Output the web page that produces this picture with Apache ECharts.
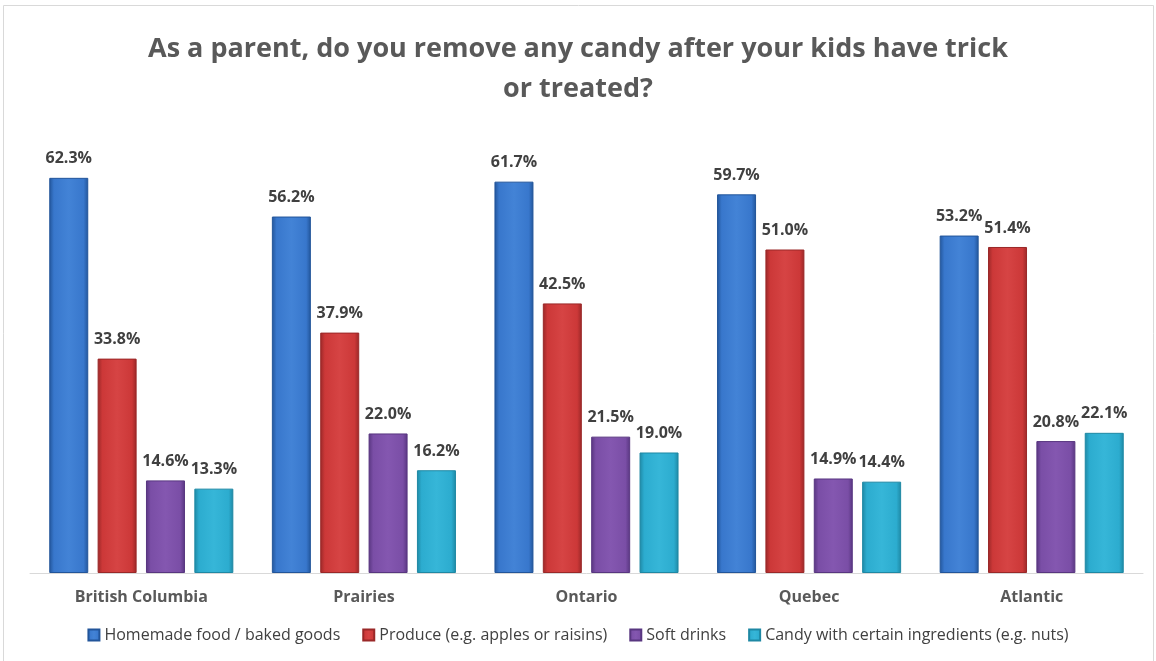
<!DOCTYPE html>
<html>
<head>
<meta charset="utf-8">
<script src="https://cdn.jsdelivr.net/npm/echarts@6/dist/echarts.min.js"></script>
<style>
  html, body { margin: 0; padding: 0; background: #fff; }
  #chart { width: 1156px; height: 661px; }
</style>
</head>
<body>
<div id="chart"></div>
<script>
const regions = ['British Columbia', 'Prairies', 'Ontario', 'Quebec', 'Atlantic']
const homemade = [62.3, 56.2, 61.7, 59.7, 53.2]
const produce = [33.8, 37.9, 42.5, 51.0, 51.4]
const softDrinks = [14.6, 22.0, 21.5, 14.9, 20.8]
const candyIngredients = [13.3, 16.2, 19.0, 14.4, 22.1]
const seriesNames = [
  'Homemade food / baked goods',
  'Produce (e.g. apples or raisins)',
  'Soft drinks',
  'Candy with certain ingredients (e.g. nuts)'
]

// 边缘深、中间亮，模仿 Excel 的斜面柱子
function bevel(dark, mid, light) {
  return new echarts.graphic.LinearGradient(0, 0, 1, 0, [
    { offset: 0, color: dark },
    { offset: 0.12, color: mid },
    { offset: 0.5, color: light },
    { offset: 0.88, color: mid },
    { offset: 1, color: dark }
  ])
}
const colors = [
  ['#22559a', '#3877cc', '#4383d6'],
  ['#9a2828', '#cc3838', '#d64444'],
  ['#583680', '#7a4ea6', '#8457b0'],
  ['#1e88a4', '#2caccf', '#36b6d8']
]
const flat = ['#3877cc', '#cc3838', '#7a4ea6', '#2caccf']

function makeSeries(name, data, i) {
  return {
    name: name,
    type: 'bar',
    data: data,
    barWidth: 39,
    barGap: '24%',
    itemStyle: {
      color: bevel(colors[i][0], colors[i][1], colors[i][2]),
      borderColor: colors[i][0],
      borderWidth: 1
    },
    label: {
      show: true,
      position: 'top',
      distance: 11,
      formatter: p => p.value.toFixed(1) + '%',
      fontFamily: 'Open Sans',
      fontWeight: 'bold',
      fontSize: 16,
      color: '#404040'
    }
  }
}

const chart = echarts.init(document.getElementById('chart'))
chart.setOption({
  animation: false,
  color: flat,
  title: {
    text: 'As a parent, do you remove any candy after your kids have trick\nor treated?',
    left: 'center',
    top: 24,
    textStyle: {
      fontFamily: 'Open Sans',
      fontWeight: 'bold',
      fontSize: 27,
      lineHeight: 40,
      color: '#595959'
    }
  },
  graphic: [{
    type: 'rect',
    shape: { x: 3.5, y: 5.5, width: 1150, height: 700 },
    style: { fill: 'none', stroke: '#d9d9d9', lineWidth: 1 },
    silent: true
  }],
  legend: {
    bottom: 13,
    left: 'center',
    itemWidth: 11,
    itemHeight: 11,
    itemGap: 22,
    icon: 'rect',
    textStyle: { fontFamily: 'Open Sans', fontSize: 16, color: '#404040' },
    data: seriesNames
  },
  grid: { left: 30, right: 13, top: 129, bottom: 88 },
  xAxis: {
    type: 'category',
    data: regions,
    axisLine: { lineStyle: { color: '#d9d9d9', width: 1 } },
    axisTick: { show: false },
    axisLabel: {
      margin: 16,
      fontFamily: 'Open Sans',
      fontWeight: 'bold',
      fontSize: 16,
      color: '#595959'
    }
  },
  yAxis: {
    type: 'value',
    min: 0,
    max: 70,
    show: false,
    splitLine: { show: false }
  },
  series: [
    makeSeries(seriesNames[0], homemade, 0),
    makeSeries(seriesNames[1], produce, 1),
    makeSeries(seriesNames[2], softDrinks, 2),
    makeSeries(seriesNames[3], candyIngredients, 3)
  ]
})
window.addEventListener('resize', () => chart.resize())
</script>
</body>
</html>
